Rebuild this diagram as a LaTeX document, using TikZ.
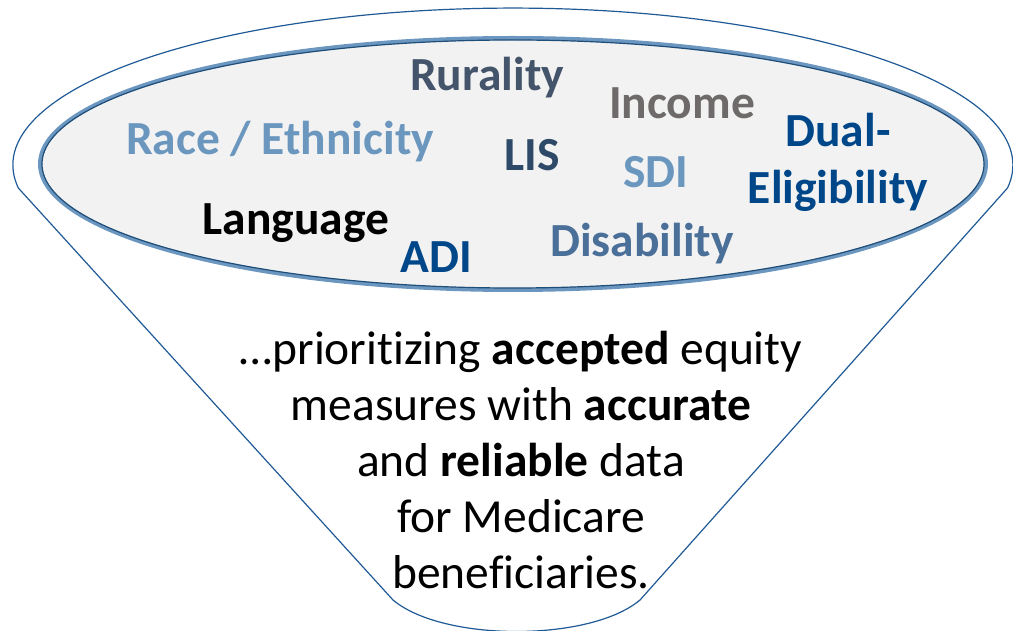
\documentclass[tikz,border=0pt]{standalone}
\usepackage{fontspec}
\setmainfont{Carlito}[Ligatures=NoCommon]
\definecolor{funnelblue}{HTML}{1F5A96}
\definecolor{haloblue}{HTML}{6A96C0}
\definecolor{ringblue}{HTML}{1F4E79}
\definecolor{innergray}{HTML}{F2F2F2}
\definecolor{slate}{HTML}{44546A}
\definecolor{warmgray}{HTML}{6E6A6A}
\definecolor{steel}{HTML}{6B97BF}
\definecolor{navy}{HTML}{2F4A68}
\definecolor{deepblue}{HTML}{00478A}
\definecolor{midblue}{HTML}{4A6F98}
\begin{document}
\begin{tikzpicture}[x=1pt,y=1pt,
    factor/.style={font=\fontsize{47.5}{57}\selectfont\bfseries, anchor=base, inner sep=0pt, align=center}]
    \useasboundingbox (0,0) rectangle (1013,630);
    % funnel
    \draw[funnelblue, line width=1.2pt] (18.3,442) arc[start angle=188.4, end angle=-8.4, x radius=500, y radius=157]
        -- (640,30) .. controls (590,-12) and (443,-12) .. (393,30) -- cycle;
    % mouth of the funnel
    \draw[fill=innergray, draw=haloblue, line width=4pt] (513,466) ellipse[x radius=473, y radius=126];
    \draw[ringblue, line width=1.2pt] (513,466) ellipse[x radius=471, y radius=124];
    % equity factors
    \node[factor, text=slate] (rurality) at (487,539) {Rurality};
    \node[factor, text=warmgray] (income) at (682,511) {Income};
    \node[factor, text=steel] (race) at (280,475) {Race / Ethnicity};
    \node[factor, text=navy] (lis) at (532,459) {LIS};
    \node[factor, text=steel] (sdi) at (656,442) {SDI};
    \node[factor, text=deepblue] (dual) at (838,426) {Dual-\\Eligibility};
    \node[factor, text=black] (language) at (296,395) {Language};
    \node[factor, text=deepblue] (adi) at (436,357) {ADI};
    \node[factor, text=midblue] (disability) at (642,373) {Disability};
    % statement
    \node[font=\fontsize{47.5}{56}\selectfont, anchor=base, inner sep=0pt, align=center] (statement) at (521,42)
        {…prioritizing \textbf{accepted} equity\\measures with \textbf{accurate}\\and \textbf{reliable} data\\for Medicare\\beneficiaries.};
\end{tikzpicture}
\end{document}
